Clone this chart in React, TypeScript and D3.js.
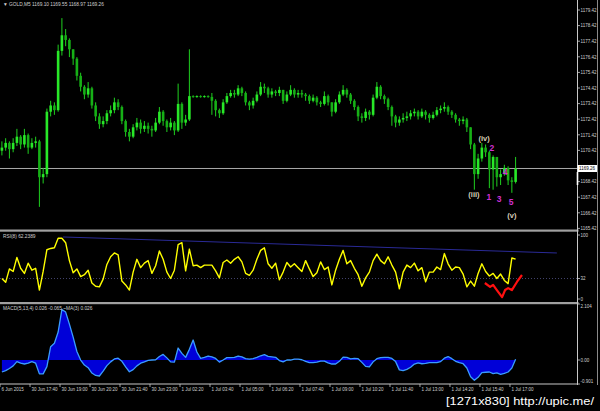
import React from "react";
import * as d3 from "d3";

const W = 600;
const H = 411;

const title = "▼ GOLD,M5 1169.10 1169.55 1168.97 1169.26";
const rsiTitle = "RSI(8) 62.2389";
const macdTitle = "MACD(5,13,4) 0.026 -0.065 ~MA(3) 0.026";
const watermark = "[1271x830] http://upic.me/";
const currentPrice = 1169.26;
const firstOpen = 1170.4;

const closes = [
  1170.6, 1170.9, 1170.5, 1170.9, 1171.3, 1170.8, 1171.4, 1170.6, 1170.9, 1171.0,
  1168.7, 1168.9, 1172.9, 1173.3, 1173.0, 1176.8, 1177.8, 1177.5, 1176.9, 1176.3,
  1175.2, 1174.5, 1174.0, 1174.4, 1173.3, 1172.6, 1172.1, 1172.3, 1172.8, 1173.0,
  1173.5, 1173.2, 1172.3, 1171.6, 1171.3, 1171.9, 1172.2, 1171.8, 1172.0, 1171.8,
  1171.7, 1172.2, 1172.9, 1172.3, 1171.9, 1172.2, 1171.7, 1173.4, 1172.2, 1172.4,
  1173.9, 1173.85, 1173.9, 1173.85, 1173.9, 1173.85, 1173.6, 1173.0, 1172.8, 1173.5,
  1173.9, 1174.1, 1174.0, 1174.4, 1174.1, 1173.5, 1173.3, 1173.6, 1174.0, 1174.5,
  1174.4, 1174.0, 1174.2, 1174.1, 1174.3, 1173.6, 1174.0, 1174.3, 1174.0, 1174.1,
  1174.0, 1173.9, 1173.6, 1173.8, 1173.5, 1173.4, 1173.9, 1173.5, 1172.9, 1173.5,
  1174.0, 1174.3, 1174.0, 1173.6, 1173.2, 1172.6, 1172.5, 1172.9, 1172.7, 1173.8,
  1174.5, 1173.9, 1173.7, 1173.2, 1172.6, 1172.2, 1172.4, 1172.5, 1172.6, 1172.8,
  1172.9, 1172.6, 1172.9, 1172.7, 1172.5, 1172.7, 1173.0, 1173.1, 1173.2, 1172.9,
  1172.7, 1172.4, 1172.3, 1172.4, 1171.9, 1170.8, 1168.9, 1169.9, 1170.6, 1170.3,
  1169.2, 1170.0, 1168.7, 1168.9, 1169.3, 1168.5, 1168.4, 1169.26,
];

const highs = [
  1171.0, 1171.2, 1171.0, 1171.2, 1171.8, 1171.4, 1171.8, 1171.5, 1171.2, 1171.3,
  1171.1, 1169.3, 1173.1, 1173.6, 1173.5, 1177.2, 1178.9, 1178.2, 1177.6, 1176.9,
  1176.4, 1175.4, 1174.6, 1174.8, 1174.5, 1173.5, 1172.8, 1172.6, 1173.0, 1173.3,
  1173.8, 1173.7, 1173.3, 1172.4, 1171.8, 1172.1, 1172.5, 1172.4, 1172.3, 1172.2,
  1172.0, 1172.5, 1173.2, 1173.0, 1172.4, 1172.5, 1172.3, 1174.7, 1173.5, 1172.7,
  1176.9, 1173.95, 1173.95, 1173.95, 1173.95, 1173.95, 1174.1, 1173.7, 1173.1, 1173.7,
  1174.1, 1174.3, 1174.3, 1174.6, 1174.5, 1174.2, 1173.6, 1173.8, 1174.2, 1174.8,
  1174.7, 1174.5, 1174.4, 1174.3, 1174.5, 1174.3, 1174.2, 1174.6, 1174.4, 1174.3,
  1174.3, 1174.1, 1174.0, 1174.0, 1173.9, 1173.6, 1174.2, 1174.0, 1173.5, 1173.7,
  1174.2, 1174.6, 1174.4, 1174.1, 1173.7, 1173.3, 1172.8, 1173.1, 1173.0, 1174.0,
  1174.8, 1174.6, 1174.0, 1173.8, 1173.3, 1172.7, 1172.6, 1172.8, 1172.9, 1173.0,
  1173.1, 1173.0, 1173.1, 1173.0, 1172.8, 1172.9, 1173.2, 1173.3, 1173.5, 1173.3,
  1173.0, 1172.8, 1172.5, 1172.6, 1172.5, 1171.9, 1170.9, 1170.2, 1170.9, 1170.8,
  1170.4, 1170.1, 1170.0, 1169.2, 1169.5, 1169.4, 1168.7, 1170.0,
];

const lows = [
  1170.1, 1170.4, 1169.9, 1170.3, 1170.7, 1170.5, 1170.6, 1170.2, 1170.5, 1170.6,
  1166.8, 1168.3, 1168.7, 1172.6, 1172.7, 1172.9, 1176.5, 1177.1, 1176.4, 1175.9,
  1174.9, 1174.2, 1173.7, 1173.8, 1173.1, 1172.3, 1171.8, 1171.9, 1172.1, 1172.6,
  1172.8, 1173.0, 1172.1, 1171.3, 1171.0, 1171.2, 1171.7, 1171.5, 1171.6, 1171.5,
  1171.3, 1171.6, 1172.1, 1172.0, 1171.6, 1171.7, 1171.4, 1171.6, 1171.8, 1172.0,
  1172.3, 1173.8, 1173.8, 1173.8, 1173.8, 1173.8, 1172.7, 1172.6, 1172.5, 1172.7,
  1173.4, 1173.8, 1173.8, 1173.9, 1173.9, 1173.3, 1173.0, 1173.1, 1173.5, 1173.9,
  1174.1, 1173.8, 1173.8, 1173.9, 1173.9, 1173.4, 1173.5, 1173.9, 1173.8, 1173.8,
  1173.8, 1173.6, 1173.4, 1173.5, 1173.3, 1173.2, 1173.3, 1173.3, 1172.6, 1172.8,
  1173.4, 1173.9, 1173.8, 1173.4, 1173.0, 1172.3, 1172.2, 1172.3, 1172.4, 1172.6,
  1173.7, 1173.7, 1173.4, 1173.0, 1172.0, 1171.9, 1172.0, 1172.2, 1172.3, 1172.4,
  1172.6, 1172.4, 1172.5, 1172.4, 1172.2, 1172.4, 1172.6, 1172.8, 1172.9, 1172.7,
  1172.5, 1172.2, 1172.0, 1172.1, 1171.6, 1170.5, 1167.9, 1168.6, 1169.7, 1170.0,
  1168.0, 1167.9, 1168.1, 1168.2, 1168.8, 1168.2, 1167.7, 1168.3,
];

const rsiValues = [
  32, 26, 47, 43, 65, 48, 40, 56, 45, 48,
  14, 43, 77, 79, 80, 95, 95, 88, 60, 41,
  47, 35, 38, 45, 25, 20, 19, 31, 54, 66,
  72, 69, 28, 22, 14, 42, 62, 49, 56, 60,
  40, 52, 75, 62, 42, 32, 45, 85, 88, 44,
  78, 52, 53, 49, 53, 53, 53, 44, 33, 57,
  61, 56, 62, 66, 58, 40, 37, 45, 62, 76,
  80, 55, 48, 56, 30, 42, 57, 50, 55, 49,
  43, 60, 47, 35, 41, 58, 46, 50, 22, 45,
  62, 76, 55, 60, 48, 38, 20, 33, 42, 60,
  70, 60, 55, 66, 53, 42, 16, 42, 53, 49,
  56, 44, 49, 27, 42, 42, 50, 46, 71, 55,
  45, 50, 49, 39, 19, 28, 20, 40, 55, 43,
  36, 40, 32, 39, 29, 24, 64, 62.24,
];

const macdValues = [
  -0.45, -0.4, -0.32, -0.22, -0.06, -0.12, -0.15, -0.12, -0.06, -0.12,
  -0.52, -0.52, -0.25, 0.5, 0.63, 1.05, 1.9, 1.8, 1.35, 0.86,
  0.32, 0, -0.19, -0.29, -0.49, -0.58, -0.6, -0.42, -0.21, -0.07,
  0.04, 0.07, -0.05, -0.26, -0.44, -0.36, -0.22, -0.12, -0.07, -0.01,
  0, 0.01, 0.13, 0.21, 0.08, -0.07, -0.08, 0.45, 0.25, 0.1,
  0.4, 0.75, 0.3, 0.06, 0.1, 0.15, 0.12, 0.06, -0.08, 0,
  0.09, 0.09, 0.1, 0.15, 0.12, 0.05, 0.03, 0.05, 0.1, 0.16,
  0.2, 0.14, 0.12, 0.1, -0.02, -0.07, 0, 0, 0.03, 0.03,
  0.01, -0.05, -0.1, -0.1, -0.08, -0.04, -0.04, -0.11, -0.15, -0.15,
  -0.05, 0.11, 0.1, 0.04, 0.06, 0.05, -0.09, -0.24, -0.26, -0.07,
  0.05, 0.09, 0.1, 0.1, 0.06, -0.06, -0.37, -0.4, -0.35, -0.27,
  -0.15, -0.11, -0.14, -0.13, -0.1, -0.1, -0.1, -0.06, 0.07, 0.13,
  0.05, -0.05, -0.1, -0.14, -0.3, -0.63, -0.76, -0.65, -0.47, -0.46,
  -0.45, -0.51, -0.48, -0.54, -0.5, -0.45, -0.3, 0.026,
];

const priceTicks = [
  1179.42, 1178.42, 1177.42, 1176.42, 1175.42, 1174.42, 1173.42, 1172.42,
  1171.42, 1170.42, 1168.42, 1167.42, 1166.42, 1165.42,
];
const rsiTicks = [100, 32, 0];
const rsiLevel = 32;
const macdTicks = [2.104, 0, -0.901];
const macdTickLabels = ["2.104", "0.00", "-0.901"];

const timeLabels = [
  "6 Jun 2015", "30 Jun 17:40", "30 Jun 19:00", "30 Jun 20:20", "30 Jun 21:40",
  "30 Jun 23:00", "1 Jul 02:20", "1 Jul 03:40", "1 Jul 05:00", "1 Jul 06:20",
  "1 Jul 07:40", "1 Jul 09:00", "1 Jul 10:20", "1 Jul 11:40", "1 Jul 13:00",
  "1 Jul 14:20", "1 Jul 15:40", "1 Jul 17:00",
];
const timeLabelBars = [
  -0.5, 7.5, 15.5, 23.5, 31.5, 39.5, 47.5, 55.5, 63.5, 71.5, 79.5, 87.5, 95.5,
  103.5, 111.5, 119.5, 127.5, 135.5,
];

// [bar index, rsi value]
const rsiTrendLine = [
  [16.3, 96.9],
  [148, 71.9],
];
const redLine = [
  [128.8, 25], [130.2, 19], [131, 22], [132, 14], [133.4, 3], [134.2, 14],
  [135, 17], [136, 14], [137.4, 27], [138.7, 37.5],
];

// [text, bar index, price, kind]
const waveLabels: [string, number, number, string][] = [
  ["(iii)", 125.9, 1167.56, "major"],
  ["(iv)", 128.6, 1171.15, "major"],
  ["(v)", 136.0, 1166.21, "major"],
  ["1", 129.9, 1167.37, "minor"],
  ["2", 130.7, 1170.51, "minor"],
  ["3", 132.6, 1167.24, "minor"],
  ["4", 134.2, 1168.97, "minor"],
  ["5", 135.8, 1167.05, "minor"],
];

const FONT = "'Liberation Sans', Arial, sans-serif";
const AX = 577.5;

export default function App() {
  const n = closes.length;
  const x = d3.scaleLinear().domain([0, n - 1]).range([1.9, 515.6]);
  const py = d3.scaleLinear().domain([1165.42, 1179.42]).range([228.4, 10]);
  const ry = d3.scaleLinear().domain([0, 100]).range([299, 235]);
  const my = d3.scaleLinear().domain([-0.901, 2.104]).range([384, 304]);

  const candles = closes.map((c, i) => {
    const o = i === 0 ? firstOpen : closes[i - 1];
    return { i, o, c, h: highs[i], l: lows[i] };
  });

  const rsiLine = d3
    .line<number>()
    .x((_, i) => x(i))
    .y((d) => ry(d))(rsiValues);

  const pairLine = d3
    .line<number[]>()
    .x((d) => x(d[0]))
    .y((d) => ry(d[1]));

  const macdArea = d3
    .area<number>()
    .x((_, i) => x(i))
    .y0(my(0))
    .y1((d) => my(d))(macdValues);
  const macdLine = d3
    .line<number>()
    .x((_, i) => x(i))
    .y((d) => my(d))(macdValues);

  const bw = 2.6;
  const axisText = "#d0d0d0";

  return (
    <div style={{ position: "absolute", left: 0, top: 0, width: W, height: H, background: "#000" }}>
      <svg width={W} height={H} style={{ display: "block" }} fontFamily={FONT}>
        <rect x={0} y={0} width={W} height={H} fill="#000" />

        {/* main panel */}
        <line x1={0} x2={AX} y1={py(currentPrice)} y2={py(currentPrice)} stroke="#a8a8a8" strokeWidth={1} />
        {candles.map((d) => {
          const cx = x(d.i);
          const top = py(Math.max(d.o, d.c));
          const bot = py(Math.min(d.o, d.c));
          const up = d.c >= d.o;
          return (
            <g key={d.i}>
              <line x1={cx} x2={cx} y1={py(d.h)} y2={py(d.l)} stroke="#1fd01f" strokeWidth={1} />
              <rect
                x={cx - bw / 2}
                y={top}
                width={bw}
                height={Math.max(1, bot - top)}
                fill={up ? "#28e828" : "#16b016"}
              />
            </g>
          );
        })}
        <text x={3} y={6} fontSize={4.8} fill={axisText}>{title}</text>

        {waveLabels.map(([t, bi, p, k]) => (
          <text
            key={t}
            x={x(bi)}
            y={py(p)}
            fontSize={k === "major" ? 7.5 : 8.5}
            fontWeight="bold"
            textAnchor="middle"
            dominantBaseline="middle"
            fill={k === "major" ? "#d8ceb8" : "#d030d0"}
          >
            {t}
          </text>
        ))}

        {/* separators */}
        <rect x={0} y={229.5} width={AX + 1} height={2.2} fill="#a0a0a0" />
        <rect x={0} y={302} width={AX + 1} height={2.2} fill="#a0a0a0" />

        {/* RSI panel */}
        <line x1={0} x2={AX} y1={ry(rsiLevel)} y2={ry(rsiLevel)} stroke="#55558a" strokeWidth={0.8} strokeDasharray="1,2" />
        <path d={pairLine(rsiTrendLine) || ""} stroke="#2a2a96" strokeWidth={1} fill="none" />
        <path d={rsiLine || ""} stroke="#ffff00" strokeWidth={1.4} fill="none" strokeLinejoin="round" />
        <path d={pairLine(redLine) || ""} stroke="#ff1010" strokeWidth={2.2} fill="none" strokeLinejoin="round" />
        <text x={3} y={238} fontSize={4.8} fill={axisText}>{rsiTitle}</text>

        {/* MACD panel */}
        <path d={macdArea || ""} fill="#0000d8" />
        <path d={macdLine || ""} stroke="#3a9cff" strokeWidth={1.3} fill="none" strokeLinejoin="round" />
        <text x={3} y={310} fontSize={4.8} fill={axisText}>{macdTitle}</text>

        {/* right axis */}
        <line x1={AX} x2={AX} y1={0} y2={385} stroke="#c8c8c8" strokeWidth={1} />
        <line x1={597.5} x2={597.5} y1={0} y2={385} stroke="#8a8a8a" strokeWidth={1} />
        {priceTicks.map((p) => (
          <g key={p}>
            <line x1={AX} x2={AX + 2.5} y1={py(p)} y2={py(p)} stroke="#c8c8c8" strokeWidth={0.8} />
            <text x={AX + 3} y={py(p) + 1.7} fontSize={4.5} fill={axisText}>{p.toFixed(2)}</text>
          </g>
        ))}
        <rect x={AX} y={py(currentPrice) - 3.5} width={19.5} height={7} fill="#ffffff" />
        <rect x={AX - 0.8} y={py(currentPrice) + 3.5} width={1.6} height={13} fill="#ffffff" />
        <text x={AX + 1.5} y={py(currentPrice) + 1.7} fontSize={4.5} fill="#000">{currentPrice.toFixed(2)}</text>

        {rsiTicks.map((v) => (
          <g key={v}>
            <line x1={AX} x2={AX + 2.5} y1={ry(v)} y2={ry(v)} stroke="#c8c8c8" strokeWidth={0.8} />
            <text x={AX + 3} y={ry(v) + 1.7} fontSize={4.5} fill={axisText}>{v}</text>
          </g>
        ))}
        {macdTicks.map((v, i) => (
          <g key={v}>
            <line x1={AX} x2={AX + 2.5} y1={my(v)} y2={my(v)} stroke="#c8c8c8" strokeWidth={0.8} />
            <text x={AX + 3} y={my(v) + (i === 0 ? 3.5 : i === 2 ? -1 : 1.7)} fontSize={4.5} fill={axisText}>
              {macdTickLabels[i]}
            </text>
          </g>
        ))}

        {/* time axis */}
        <line x1={0} x2={AX} y1={384} y2={384} stroke="#c8c8c8" strokeWidth={1} />
        {timeLabels.map((t, i) => {
          const tx = x(timeLabelBars[i]);
          return (
            <g key={t}>
              <line x1={tx} x2={tx} y1={384} y2={387} stroke="#c8c8c8" strokeWidth={0.8} />
              <text x={tx + 1.5} y={390.5} fontSize={4.5} fill={axisText}>{t}</text>
            </g>
          );
        })}

        <text
          x={446}
          y={405}
          fontSize={11}
          fill="#ffffff"
          fontFamily="'Liberation Sans', sans-serif"
          textLength={148}
          lengthAdjust="spacingAndGlyphs"
        >
          {watermark}
        </text>
      </svg>
    </div>
  );
}
